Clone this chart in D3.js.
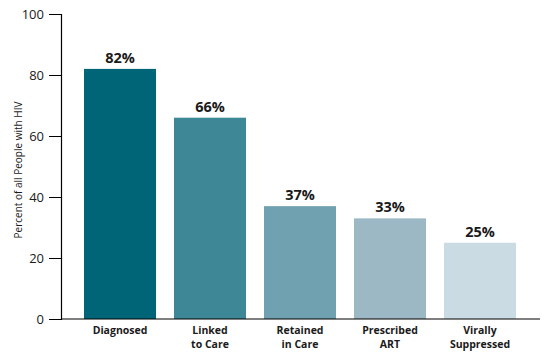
<!DOCTYPE html>
<html><head><meta charset="utf-8">
<script src="https://cdn.jsdelivr.net/npm/d3@7"></script>
<style>body{margin:0;background:#fff}svg{display:block}text{font-family:"Open Sans",sans-serif}</style>
</head><body><svg id="c" width="549" height="357"></svg>
<script>
const categories = [["Diagnosed"],["Linked","to Care"],["Retained","in Care"],["Prescribed","ART"],["Virally","Suppressed"]];
const values = [82,66,37,33,25];
const colors = ["#006677","#3e8797","#70a1b1","#9db8c5","#cadbe3"];
const yTicks = [0,20,40,60,80,100];

const svg = d3.select("#c");
const x = d3.scaleBand().domain(d3.range(values.length)).range([75,525]).paddingInner(0.2).paddingOuter(0.1);
const y = d3.scaleLinear().domain([0,100]).range([319,14]);

svg.selectAll("rect.bar").data(values).join("rect").attr("class","bar")
  .attr("x",(d,i)=>x(i)).attr("width",x.bandwidth())
  .attr("y",d=>y(d)).attr("height",d=>y(0)-y(d)).attr("fill",(d,i)=>colors[i]);

svg.selectAll("text.val").data(values).join("text").attr("class","val")
  .attr("x",(d,i)=>x(i)+x.bandwidth()/2).attr("y",d=>y(d)-6)
  .attr("text-anchor","middle").attr("font-size",14.5).attr("font-weight","bold").attr("fill","#1a1a1a")
  .text(d=>d+"%");

const yAxis = svg.append("g").attr("transform","translate(61,0)")
  .call(d3.axisLeft(y).tickValues(yTicks).tickSize(12).tickPadding(5));
yAxis.select(".domain").attr("stroke","#000").attr("stroke-width",1.2);
yAxis.selectAll(".tick line").attr("stroke","#000");
yAxis.selectAll("text").attr("font-size",13).attr("fill","#1a1a1a").style("font-family","'Open Sans',sans-serif");

svg.append("line").attr("x1",61).attr("x2",540).attr("y1",y(0)).attr("y2",y(0)).attr("stroke","#000").attr("stroke-width",1.2);

const cat = svg.selectAll("text.cat").data(categories).join("text").attr("class","cat")
  .attr("x",(d,i)=>x(i)+x.bandwidth()/2).attr("y",334)
  .attr("text-anchor","middle").attr("font-size",10.5).attr("font-weight","bold").attr("fill","#1a1a1a");
cat.selectAll("tspan").data(d=>d).join("tspan")
  .attr("x",function(){return this.parentNode.getAttribute("x");})
  .attr("dy",(d,i)=>i?14:0).text(d=>d);

svg.append("text").attr("transform","translate(22,170) rotate(-90)").attr("text-anchor","middle")
  .attr("font-size",10).attr("fill","#1a1a1a").text("Percent of all People with HIV");
</script></body></html>
